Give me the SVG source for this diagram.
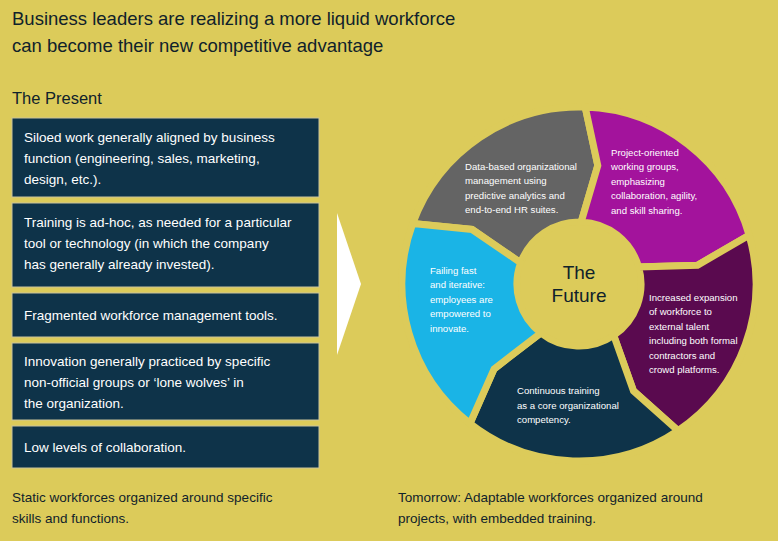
<svg xmlns="http://www.w3.org/2000/svg" width="778" height="541" viewBox="0 0 778 541">
<style>
text{font-family:"Liberation Sans",Arial,sans-serif}
.t{fill:#10222b}
.bx{fill:#0e3349;stroke:#c9c49a;stroke-width:1}
.bt{fill:#ffffff;font-size:13.5px}
.st{fill:#ffffff;font-size:9.6px}
.seg{stroke:#dccb5a;stroke-width:7;stroke-linejoin:miter}
</style>
<rect width="778" height="541" fill="#dccb5a"/>
<text class="t" x="12" y="25" font-size="18.5">Business leaders are realizing a more liquid workforce</text>
<text class="t" x="12" y="52" font-size="18.5">can become their new competitive advantage</text>
<text class="t" x="12" y="104" font-size="16.5">The Present</text>
<g id="box1"><rect class="bx" x="12" y="118" width="307" height="79"/>
<text class="bt" x="24" y="142">Siloed work generally aligned by business</text>
<text class="bt" x="24" y="163">function (engineering, sales, marketing,</text>
<text class="bt" x="24" y="184">design, etc.).</text></g>
<g id="box2"><rect class="bx" x="12" y="203" width="307" height="84"/>
<text class="bt" x="24" y="227">Training is ad-hoc, as needed for a particular</text>
<text class="bt" x="24" y="248">tool or technology (in which the company</text>
<text class="bt" x="24" y="269">has generally already invested).</text></g>
<g id="box3"><rect class="bx" x="12" y="293" width="307" height="44"/>
<text class="bt" x="24" y="320">Fragmented workforce management tools.</text></g>
<g id="box4"><rect class="bx" x="12" y="343" width="307" height="77"/>
<text class="bt" x="24" y="366">Innovation generally practiced by specific</text>
<text class="bt" x="24" y="387">non-official groups or ‘lone wolves’ in</text>
<text class="bt" x="24" y="408">the organization.</text></g>
<g id="box5"><rect class="bx" x="12" y="426" width="307" height="42"/>
<text class="bt" x="24" y="452">Low levels of collaboration.</text></g>
<polygon id="arrow" points="337,213 361,284 337,355" fill="#ffffff"/>
<g id="connectors"></g>
<g id="seg-gray"><path class="seg" fill="#646464" d="M412.7,223.5 A177,177 0 0 1 585.2,107.1 L597.8,165.5 L581.2,222 A62,62 0 0 0 520.7,262.8 L472.1,229.5 Z"/>
<text class="st" x="465" y="170">Data-based organizational</text>
<text class="st" x="465" y="184">management using</text>
<text class="st" x="465" y="199">predictive analytics and</text>
<text class="st" x="465" y="213">end-to-end HR suites.</text></g>
<g id="seg-purple"><path class="seg" fill="#a3139c" d="M585.2,107.1 A177,177 0 0 1 749.1,235.2 L697.5,265.2 L638.6,266.9 A62,62 0 0 0 581.2,222 L597.8,165.5 Z"/>
<text class="st" x="611" y="156">Project-oriented</text>
<text class="st" x="611" y="170">working groups,</text>
<text class="st" x="611" y="185">emphasizing</text>
<text class="st" x="611" y="199">collaboration, agility,</text>
<text class="st" x="611" y="214">and skill sharing.</text></g>
<g id="seg-darkpurple"><path class="seg" fill="#5a0a4f" d="M749.1,235.2 A177,177 0 0 1 678,430.7 L633.5,390.9 L613.7,335.4 A62,62 0 0 0 638.6,266.9 L697.5,265.2 Z"/>
<text class="st" x="649" y="301">Increased expansion</text>
<text class="st" x="649" y="315">of workforce to</text>
<text class="st" x="649" y="330">external talent</text>
<text class="st" x="649" y="344">including both formal</text>
<text class="st" x="649" y="359">contractors and</text>
<text class="st" x="649" y="373">crowd platforms.</text></g>
<g id="seg-navy"><path class="seg" fill="#0e3349" d="M678,430.7 A177,177 0 0 1 470,423.5 L494.1,368.9 L540.8,332.9 A62,62 0 0 0 613.7,335.4 L633.5,390.9 Z"/>
<text class="st" x="517" y="394">Continuous training</text>
<text class="st" x="517" y="409">as a core organizational</text>
<text class="st" x="517" y="423">competency.</text></g>
<g id="seg-cyan"><path class="seg" fill="#1ab4e6" d="M470,423.5 A177,177 0 0 1 412.7,223.5 L472.1,229.5 L520.7,262.8 A62,62 0 0 0 540.8,332.9 L494.1,368.9 Z"/>
<text class="st" x="430" y="274">Failing fast</text>
<text class="st" x="430" y="288">and iterative:</text>
<text class="st" x="430" y="303">employees are</text>
<text class="st" x="430" y="317">empowered to</text>
<text class="st" x="430" y="332">innovate.</text></g>
<g id="center"><circle cx="579" cy="284" r="59" fill="#dccb5a"/>
<text class="t" x="579" y="279" font-size="19" text-anchor="middle">The</text>
<text class="t" x="579" y="302" font-size="19" text-anchor="middle">Future</text></g>
<text class="t" x="12" y="502" font-size="13.5">Static workforces organized around specific</text>
<text class="t" x="12" y="523" font-size="13.5">skills and functions.</text>
<text class="t" x="398" y="502" font-size="13.5">Tomorrow: Adaptable workforces organized around</text>
<text class="t" x="398" y="523" font-size="13.5">projects, with embedded training.</text>
</svg>
